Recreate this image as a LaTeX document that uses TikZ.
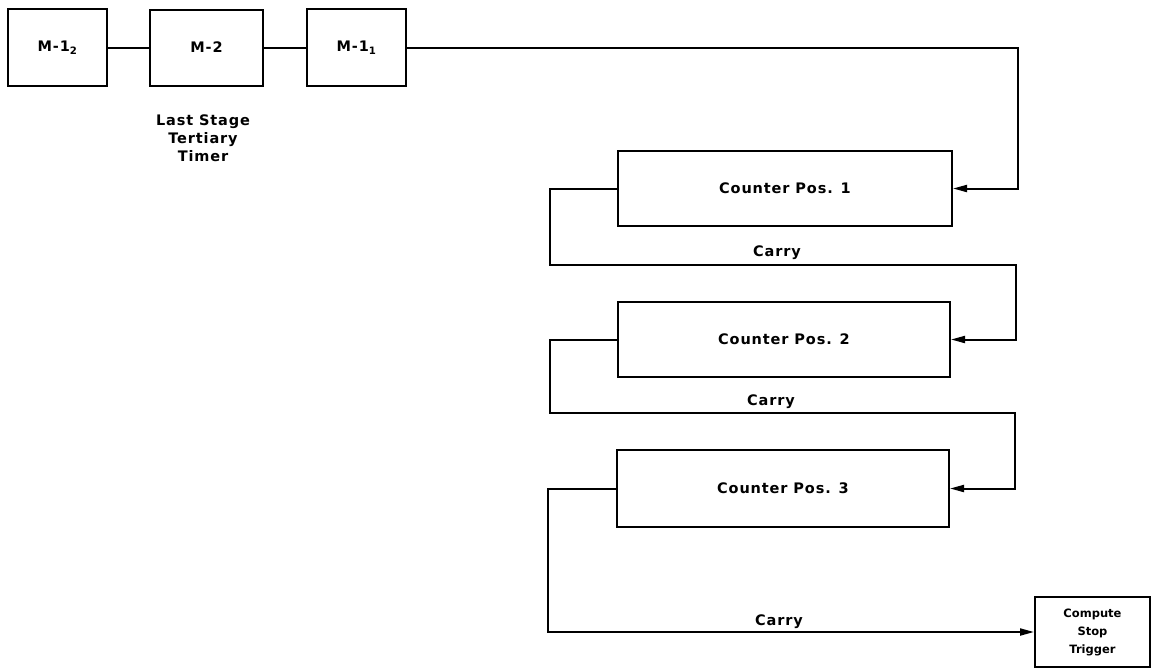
\documentclass[tikz,border=0pt]{standalone}
\usepackage{fontspec}
\setmainfont{DejaVu Sans}[LetterSpace=6]
\newfontfamily\cstfont{DejaVu Sans}
\usetikzlibrary{arrows.meta,calc}
\tikzset{
  blk/.style={draw,line width=2pt,inner sep=0pt,font=\bfseries\fontsize{14.5}{17}\selectfont,align=center},
  wire/.style={line width=2pt},
  arr/.style={wire,-{Triangle[length=14pt,width=7pt]}},
  lbl/.style={font=\bfseries\fontsize{14.5}{18}\selectfont,inner sep=1pt,align=center}
}
\begin{document}
\begin{tikzpicture}[x=1pt,y=-1pt]
\useasboundingbox (0,0) rectangle (1161,670);
\node[blk,minimum width=99pt,minimum height=77pt] (m12) at (57.5,47.5) {M-1\textsubscript{2}};
\node[blk,minimum width=113pt,minimum height=76pt] (m2) at (206.5,47.5) {M-2};
\node[blk,minimum width=99pt,minimum height=77pt] (m11) at (356.5,47.5) {M-1\textsubscript{1}};
\node[lbl] (lst) at (203,138) {Last Stage\\Tertiary\\Timer};
\node[blk,minimum width=334pt,minimum height=75pt] (c1) at (785,188.5) {Counter Pos. 1};
\node[blk,minimum width=332pt,minimum height=75pt] (c2) at (784,339.5) {Counter Pos. 2};
\node[blk,minimum width=332pt,minimum height=77pt] (c3) at (783,488.5) {Counter Pos. 3};
\node[blk,minimum width=115pt,minimum height=70pt,font=\cstfont\bfseries\fontsize{11.5}{18}\selectfont] (cst) at (1092.5,632) {Compute\\Stop\\Trigger};
\draw[wire] (m12.east) -- (m2.west);
\draw[wire] (m2.east) -- (m11.west);
\draw[arr] (m11.east) -| ([xshift=65pt]c1.east) -- (c1.east);
\draw[arr] (c1.west) -- ++(-67,0) -- ++(0,76) -| ([xshift=65pt]c2.east) -- (c2.east);
\node[lbl,anchor=south] (cy1) at (777,261) {Carry};
\draw[arr] (c2.west) -- ++(-67,0) -- ++(0,73) -| ([xshift=65pt]c3.east) -- (c3.east);
\node[lbl,anchor=south] (cy2) at (771,410) {Carry};
\draw[arr] (c3.west) -- ++(-68,0) |- (cst.west);
\node[lbl,anchor=south] (cy3) at (779,630) {Carry};
\end{tikzpicture}
\end{document}
